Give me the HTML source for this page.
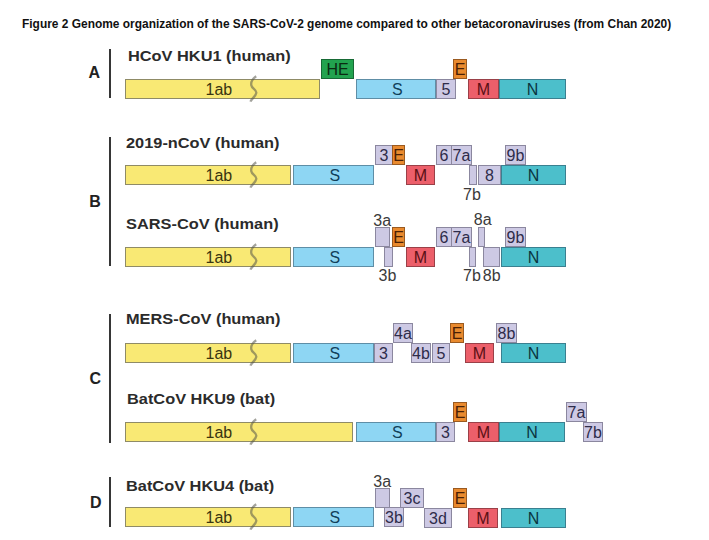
<!DOCTYPE html>
<html><head><meta charset="utf-8"><style>
html,body{margin:0;padding:0;background:#fff;}
body{width:709px;height:540px;position:relative;overflow:hidden;font-family:"Liberation Sans",sans-serif;}
.t{position:absolute;white-space:nowrap;line-height:1;}
.bx{position:absolute;box-sizing:border-box;border:1px solid;display:flex;align-items:center;justify-content:center;font-size:16px;line-height:1;padding-top:2px;}
.h{position:absolute;white-space:nowrap;font-weight:bold;font-size:15.5px;color:#2b2b2b;line-height:1;transform-origin:0 0;transform:scaleX(1.055);}
.lb{position:absolute;white-space:nowrap;font-size:16px;color:#3a3a3a;line-height:1;}
.sec{position:absolute;font-weight:bold;font-size:16px;color:#222;line-height:1;}
.vl{position:absolute;width:2px;background:#363636;}
</style></head><body>
<div class="t" style="left:22px;top:16.5px;font-size:13px;font-weight:bold;color:#111;transform:scaleX(0.918);transform-origin:0 0;">Figure 2 Genome organization of the SARS-CoV-2 genome compared to other betacoronaviruses (from Chan 2020)</div>
<div class="sec" style="left:88.5px;top:65.4px">A</div>
<div class="vl" style="left:108.5px;top:49px;height:49px"></div>
<div class="sec" style="left:89.3px;top:193.6px">B</div>
<div class="vl" style="left:108.5px;top:137px;height:129px"></div>
<div class="sec" style="left:89.6px;top:371.2px">C</div>
<div class="vl" style="left:108.5px;top:314px;height:129px"></div>
<div class="sec" style="left:89.9px;top:495.2px">D</div>
<div class="vl" style="left:108.5px;top:477px;height:50px"></div>
<div class="h" style="left:127.5px;top:47.5px">HCoV HKU1 (human)</div>
<div class="h" style="left:126.0px;top:134.7px">2019-nCoV (human)</div>
<div class="h" style="left:126.0px;top:215.8px">SARS-CoV (human)</div>
<div class="h" style="left:126.0px;top:311.3px">MERS-CoV (human)</div>
<div class="h" style="left:127.3px;top:390.6px">BatCoV HKU9 (bat)</div>
<div class="h" style="left:126.0px;top:477.5px">BatCoV HKU4 (bat)</div>
<div class="bx" style="left:125px;top:79px;width:195px;height:20px;background:#f9e974;border-color:#8f8b66;color:#3a3510;justify-content:flex-start;padding-left:79.5px;">1ab</div>
<div class="bx" style="left:321px;top:59px;width:33px;height:20px;background:#22a34f;border-color:#176a35;color:#0a2a12;">HE</div>
<div class="bx" style="left:356px;top:79px;width:80px;height:20px;background:#8ed6f3;border-color:#5e8ea6;color:#10405a;padding-left:2.5px;">S</div>
<div class="bx" style="left:436px;top:79px;width:20px;height:20px;background:#cdc9e4;border-color:#8b879f;color:#2e2c4a;">5</div>
<div class="bx" style="left:453px;top:59px;width:14px;height:20px;background:#e98a2e;border-color:#9a5a20;color:#4a2005;">E</div>
<div class="bx" style="left:468px;top:79px;width:31px;height:20px;background:#ec5f6a;border-color:#9a4048;color:#5a1015;">M</div>
<div class="bx" style="left:499px;top:79px;width:67px;height:20px;background:#4cbfcb;border-color:#3a8090;color:#0a3540;">N</div>
<div class="bx" style="left:125px;top:165px;width:166px;height:20px;background:#f9e974;border-color:#8f8b66;color:#3a3510;justify-content:flex-start;padding-left:79.5px;">1ab</div>
<div class="bx" style="left:293px;top:165px;width:81px;height:20px;background:#8ed6f3;border-color:#5e8ea6;color:#10405a;padding-left:2.5px;">S</div>
<div class="bx" style="left:375px;top:145px;width:18px;height:20px;background:#cdc9e4;border-color:#8b879f;color:#2e2c4a;">3</div>
<div class="bx" style="left:392px;top:145px;width:13px;height:20px;background:#e98a2e;border-color:#9a5a20;color:#4a2005;">E</div>
<div class="bx" style="left:406px;top:165px;width:29px;height:20px;background:#ec5f6a;border-color:#9a4048;color:#5a1015;">M</div>
<div class="bx" style="left:436px;top:145px;width:16px;height:20px;background:#cdc9e4;border-color:#8b879f;color:#2e2c4a;">6</div>
<div class="bx" style="left:451px;top:145px;width:21px;height:20px;background:#cdc9e4;border-color:#8b879f;color:#2e2c4a;">7a</div>
<div class="bx" style="left:469px;top:165px;width:8px;height:20px;background:#cdc9e4;border-color:#8b879f;color:#2e2c4a;"></div>
<div class="bx" style="left:478px;top:165px;width:23px;height:20px;background:#cdc9e4;border-color:#8b879f;color:#2e2c4a;">8</div>
<div class="bx" style="left:501px;top:165px;width:65px;height:20px;background:#4cbfcb;border-color:#3a8090;color:#0a3540;">N</div>
<div class="bx" style="left:505px;top:145px;width:21px;height:20px;background:#cdc9e4;border-color:#8b879f;color:#2e2c4a;">9b</div>
<div class="bx" style="left:125px;top:247px;width:166px;height:20px;background:#f9e974;border-color:#8f8b66;color:#3a3510;justify-content:flex-start;padding-left:79.5px;">1ab</div>
<div class="bx" style="left:293px;top:247px;width:81px;height:20px;background:#8ed6f3;border-color:#5e8ea6;color:#10405a;padding-left:2.5px;">S</div>
<div class="bx" style="left:375px;top:227px;width:15px;height:20px;background:#cdc9e4;border-color:#8b879f;color:#2e2c4a;"></div>
<div class="bx" style="left:384px;top:247px;width:9px;height:20px;background:#cdc9e4;border-color:#8b879f;color:#2e2c4a;"></div>
<div class="bx" style="left:392px;top:227px;width:13px;height:20px;background:#e98a2e;border-color:#9a5a20;color:#4a2005;">E</div>
<div class="bx" style="left:406px;top:247px;width:29px;height:20px;background:#ec5f6a;border-color:#9a4048;color:#5a1015;">M</div>
<div class="bx" style="left:436px;top:227px;width:16px;height:20px;background:#cdc9e4;border-color:#8b879f;color:#2e2c4a;">6</div>
<div class="bx" style="left:451px;top:227px;width:21px;height:20px;background:#cdc9e4;border-color:#8b879f;color:#2e2c4a;">7a</div>
<div class="bx" style="left:469px;top:247px;width:7px;height:20px;background:#cdc9e4;border-color:#8b879f;color:#2e2c4a;"></div>
<div class="bx" style="left:478px;top:227px;width:7px;height:20px;background:#cdc9e4;border-color:#8b879f;color:#2e2c4a;"></div>
<div class="bx" style="left:483px;top:247px;width:17px;height:20px;background:#cdc9e4;border-color:#8b879f;color:#2e2c4a;"></div>
<div class="bx" style="left:501px;top:247px;width:65px;height:20px;background:#4cbfcb;border-color:#3a8090;color:#0a3540;">N</div>
<div class="bx" style="left:505px;top:227px;width:21px;height:20px;background:#cdc9e4;border-color:#8b879f;color:#2e2c4a;">9b</div>
<div class="bx" style="left:125px;top:343px;width:166px;height:20px;background:#f9e974;border-color:#8f8b66;color:#3a3510;justify-content:flex-start;padding-left:79.5px;">1ab</div>
<div class="bx" style="left:293px;top:343px;width:81px;height:20px;background:#8ed6f3;border-color:#5e8ea6;color:#10405a;padding-left:2.5px;">S</div>
<div class="bx" style="left:374px;top:343px;width:19px;height:20px;background:#cdc9e4;border-color:#8b879f;color:#2e2c4a;">3</div>
<div class="bx" style="left:393px;top:323px;width:20px;height:20px;background:#cdc9e4;border-color:#8b879f;color:#2e2c4a;">4a</div>
<div class="bx" style="left:411px;top:343px;width:20px;height:20px;background:#cdc9e4;border-color:#8b879f;color:#2e2c4a;">4b</div>
<div class="bx" style="left:432px;top:343px;width:18px;height:20px;background:#cdc9e4;border-color:#8b879f;color:#2e2c4a;">5</div>
<div class="bx" style="left:450px;top:323px;width:14px;height:20px;background:#e98a2e;border-color:#9a5a20;color:#4a2005;">E</div>
<div class="bx" style="left:465px;top:343px;width:29px;height:20px;background:#ec5f6a;border-color:#9a4048;color:#5a1015;">M</div>
<div class="bx" style="left:501px;top:343px;width:65px;height:20px;background:#4cbfcb;border-color:#3a8090;color:#0a3540;">N</div>
<div class="bx" style="left:496px;top:323px;width:21px;height:20px;background:#cdc9e4;border-color:#8b879f;color:#2e2c4a;">8b</div>
<div class="bx" style="left:125px;top:422px;width:228px;height:20px;background:#f9e974;border-color:#8f8b66;color:#3a3510;justify-content:flex-start;padding-left:79.5px;">1ab</div>
<div class="bx" style="left:356px;top:422px;width:80px;height:20px;background:#8ed6f3;border-color:#5e8ea6;color:#10405a;padding-left:2.5px;">S</div>
<div class="bx" style="left:436px;top:422px;width:19px;height:20px;background:#cdc9e4;border-color:#8b879f;color:#2e2c4a;">3</div>
<div class="bx" style="left:453px;top:402px;width:14px;height:20px;background:#e98a2e;border-color:#9a5a20;color:#4a2005;">E</div>
<div class="bx" style="left:468px;top:422px;width:31px;height:20px;background:#ec5f6a;border-color:#9a4048;color:#5a1015;">M</div>
<div class="bx" style="left:499px;top:422px;width:66px;height:20px;background:#4cbfcb;border-color:#3a8090;color:#0a3540;">N</div>
<div class="bx" style="left:566px;top:402px;width:21px;height:20px;background:#cdc9e4;border-color:#8b879f;color:#2e2c4a;">7a</div>
<div class="bx" style="left:583px;top:422px;width:20px;height:20px;background:#cdc9e4;border-color:#8b879f;color:#2e2c4a;">7b</div>
<div class="bx" style="left:125px;top:507px;width:166px;height:20px;background:#f9e974;border-color:#8f8b66;color:#3a3510;justify-content:flex-start;padding-left:79.5px;">1ab</div>
<div class="bx" style="left:293px;top:507px;width:81px;height:20px;background:#8ed6f3;border-color:#5e8ea6;color:#10405a;padding-left:2.5px;">S</div>
<div class="bx" style="left:375px;top:488px;width:15px;height:20px;background:#cdc9e4;border-color:#8b879f;color:#2e2c4a;"></div>
<div class="bx" style="left:384px;top:507px;width:20px;height:20px;background:#cdc9e4;border-color:#8b879f;color:#2e2c4a;">3b</div>
<div class="bx" style="left:400px;top:488px;width:24px;height:20px;background:#cdc9e4;border-color:#8b879f;color:#2e2c4a;">3c</div>
<div class="bx" style="left:424px;top:508px;width:28px;height:20px;background:#cdc9e4;border-color:#8b879f;color:#2e2c4a;">3d</div>
<div class="bx" style="left:453px;top:488px;width:14px;height:20px;background:#e98a2e;border-color:#9a5a20;color:#4a2005;">E</div>
<div class="bx" style="left:468px;top:508px;width:30px;height:20px;background:#ec5f6a;border-color:#9a4048;color:#5a1015;">M</div>
<div class="bx" style="left:501px;top:508px;width:65px;height:20px;background:#4cbfcb;border-color:#3a8090;color:#0a3540;">N</div>
<div class="lb" style="left:463.0px;top:186.6px">7b</div>
<div class="lb" style="left:373.3px;top:212.9px">3a</div>
<div class="lb" style="left:378.5px;top:267.6px">3b</div>
<div class="lb" style="left:473.8px;top:212.1px">8a</div>
<div class="lb" style="left:463.0px;top:268.1px">7b</div>
<div class="lb" style="left:482.8px;top:268.1px">8b</div>
<div class="lb" style="left:373.3px;top:473.6px">3a</div>
<svg style="position:absolute;left:244px;top:73px" width="20" height="32" viewBox="0 0 20 32"><path d="M12.2 3.2 C 8.5 5.8, 6.8 9, 7.3 12.2 C 7.8 15.5, 12.6 16.5, 12.3 19.8 C 12 23, 7.8 25.5, 6.4 28.6" fill="none" stroke="#55554a" stroke-opacity="0.55" stroke-width="2.3" stroke-linecap="butt"/></svg>
<svg style="position:absolute;left:244px;top:159px" width="20" height="32" viewBox="0 0 20 32"><path d="M12.2 3.2 C 8.5 5.8, 6.8 9, 7.3 12.2 C 7.8 15.5, 12.6 16.5, 12.3 19.8 C 12 23, 7.8 25.5, 6.4 28.6" fill="none" stroke="#55554a" stroke-opacity="0.55" stroke-width="2.3" stroke-linecap="butt"/></svg>
<svg style="position:absolute;left:244px;top:241px" width="20" height="32" viewBox="0 0 20 32"><path d="M12.2 3.2 C 8.5 5.8, 6.8 9, 7.3 12.2 C 7.8 15.5, 12.6 16.5, 12.3 19.8 C 12 23, 7.8 25.5, 6.4 28.6" fill="none" stroke="#55554a" stroke-opacity="0.55" stroke-width="2.3" stroke-linecap="butt"/></svg>
<svg style="position:absolute;left:244px;top:337px" width="20" height="32" viewBox="0 0 20 32"><path d="M12.2 3.2 C 8.5 5.8, 6.8 9, 7.3 12.2 C 7.8 15.5, 12.6 16.5, 12.3 19.8 C 12 23, 7.8 25.5, 6.4 28.6" fill="none" stroke="#55554a" stroke-opacity="0.55" stroke-width="2.3" stroke-linecap="butt"/></svg>
<svg style="position:absolute;left:244px;top:416px" width="20" height="32" viewBox="0 0 20 32"><path d="M12.2 3.2 C 8.5 5.8, 6.8 9, 7.3 12.2 C 7.8 15.5, 12.6 16.5, 12.3 19.8 C 12 23, 7.8 25.5, 6.4 28.6" fill="none" stroke="#55554a" stroke-opacity="0.55" stroke-width="2.3" stroke-linecap="butt"/></svg>
<svg style="position:absolute;left:244px;top:501px" width="20" height="32" viewBox="0 0 20 32"><path d="M12.2 3.2 C 8.5 5.8, 6.8 9, 7.3 12.2 C 7.8 15.5, 12.6 16.5, 12.3 19.8 C 12 23, 7.8 25.5, 6.4 28.6" fill="none" stroke="#55554a" stroke-opacity="0.55" stroke-width="2.3" stroke-linecap="butt"/></svg>
</body></html>
